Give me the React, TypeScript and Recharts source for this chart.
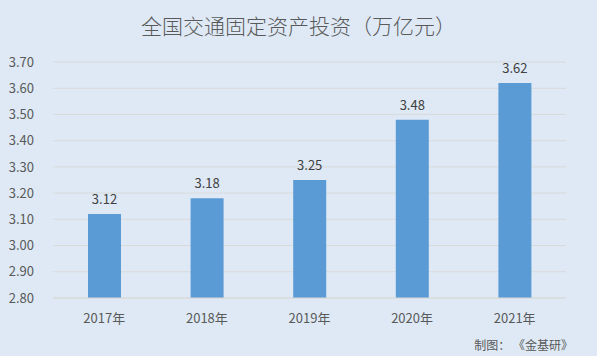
import { BarChart, Bar, XAxis, YAxis, CartesianGrid, LabelList } from "recharts";

// Chart values
const years = ["2017年", "2018年", "2019年", "2020年", "2021年"];
const investment = [3.12, 3.18, 3.25, 3.48, 3.62];
const yTicks = [2.8, 2.9, 3.0, 3.1, 3.2, 3.3, 3.4, 3.5, 3.6, 3.7];

const data = years.map((year, i) => ({ year, value: investment[i] }));

const FONT = "'Noto Sans CJK SC', 'Noto Sans', sans-serif";
const TEXT = "#595959";

const App = () => {
  return (
    <div
      style={{
        position: "fixed",
        left: 0,
        top: 0,
        width: 597,
        height: 356,
        background: "#dee9f5",
        fontFamily: FONT,
      }}
    >
      {/* Title */}
      <div
        style={{
          position: "absolute",
          top: 10,
          left: 0,
          width: 597,
          textAlign: "center",
          fontSize: 21,
          fontWeight: 300,
          color: TEXT,
        }}
      >
        全国交通固定资产投资（万亿元）
      </div>

      <BarChart
        width={597}
        height={356}
        data={data}
        margin={{ top: 62, right: 31, bottom: 28, left: 0 }}
      >
        <CartesianGrid vertical={false} stroke="#d9d9d9" />
        <XAxis
          dataKey="year"
          height={30}
          axisLine={{ stroke: "#d9d9d9" }}
          tickLine={false}
          tick={{ fontSize: 13, fill: TEXT, fontFamily: FONT }}
          tickMargin={10}
        />
        <YAxis
          domain={[2.8, 3.7]}
          ticks={yTicks}
          interval={0}
          width={53}
          axisLine={false}
          tickLine={false}
          tickFormatter={(v: number) => v.toFixed(2)}
          tick={{ fontSize: 13, fill: TEXT, fontFamily: FONT }}
          tickMargin={13}
          allowDataOverflow
        />
        <Bar dataKey="value" fill="#5b9bd5" barSize={33} isAnimationActive={false}>
          <LabelList
            dataKey="value"
            position="top"
            offset={10}
            formatter={(v: number) => v.toFixed(2)}
            style={{ fontSize: 13, fill: "#404040", fontFamily: FONT }}
          />
        </Bar>
      </BarChart>

      {/* Source note */}
      <div
        style={{
          position: "absolute",
          right: 24,
          top: 336,
          fontSize: 12,
          color: TEXT,
        }}
      >
        制图：&nbsp;《金基研》
      </div>
    </div>
  );
};

export default App;
